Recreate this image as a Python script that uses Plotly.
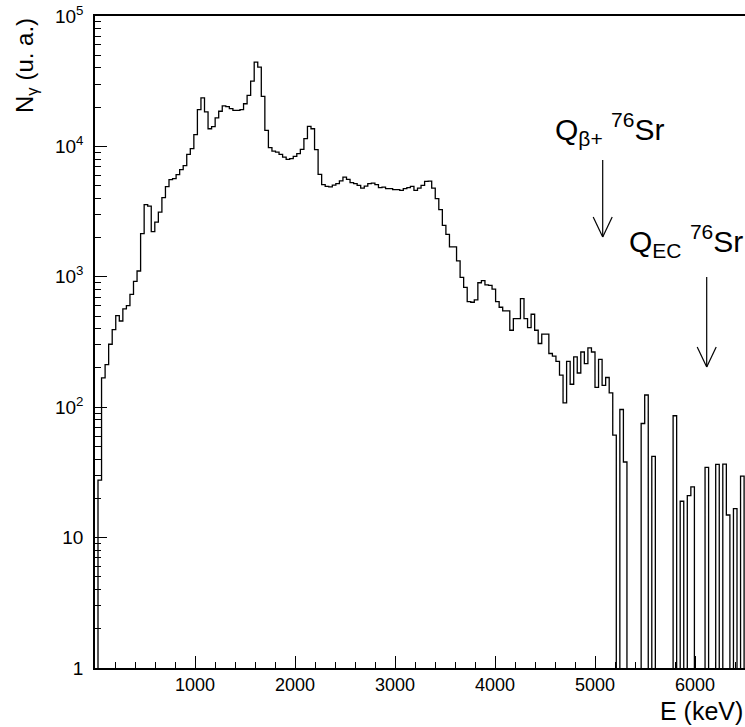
import numpy as np
import plotly.graph_objects as go

# ---------------- data ----------------
BIN_START_KEV = 30.0
BIN_WIDTH_KEV = 35.5

counts = [
    27.6, 168, 212, 304, 394, 504, 458, 567, 602, 734,
    924, 1108, 2143, 3575, 3487, 2220, 2630, 3138, 4045, 4912,
    5557, 5655, 6070, 6630, 7115, 8686, 9605, 12290, 19110, 23530,
    18390, 13660, 14160, 16540, 18610, 20430, 20150, 19450, 18870, 18870,
    19110, 21240, 24590, 31650, 44260, 40520, 24160, 13260, 9772, 9204,
    9044, 8686, 8279, 7951, 8050, 8385, 8795, 9485, 11460, 14230,
    13660, 9435, 6102, 5088, 4938, 4895, 5043, 5179, 5440, 5818,
    5587, 5271, 5179, 5024, 4791, 4964, 5179, 5234, 5088, 4825,
    4877, 4742, 4742, 4659, 4659, 4601, 4742, 4825, 4938, 4601,
    4791, 5024, 5392, 5420, 4791, 3974, 3272, 2480, 2117, 1698,
    1698, 1326, 991, 831, 646, 638, 666, 900, 935, 868,
    861, 805, 646, 584, 547, 547, 389, 478, 478, 681,
    478, 408, 516, 389, 308, 363, 363, 258, 246, 225,
    176, 108, 225, 150, 243, 183, 265, 216, 285, 265,
    142, 233, 147, 169, 129, 61, 0, 96, 38, 0,
    0, 0, 0, 75, 124, 0, 42, 0, 0, 0,
    0, 0, 86, 0, 19, 0, 21, 24.5, 0, 0,
    0, 34.5, 0, 0, 36.4, 0, 36.6, 14.9, 0, 16.7,
    0, 29.6, 0,
]

x_tick_vals = [1000, 2000, 3000, 4000, 5000, 6000]
x_tick_text = ["1000", "2000", "3000", "4000", "5000", "6000"]
y_tick_vals = [1, 10, 100, 1000, 10000, 100000]
y_tick_text = ["1", "10", "10<sup>2</sup>", "10<sup>3</sup>",
               "10<sup>4</sup>", "10<sup>5</sup>"]

q_values_kev = [5077, 6117]
q_labels = ["Q<sub>β+</sub> <sup>76</sup>Sr", "Q<sub>EC</sub> <sup>76</sup>Sr"]

# ---------------- figure ----------------
W, H = 745, 727
ML, MR, MT, MB = 95, 0, 16, 59
PH = H - MT - MB
PW = W - ML - MR
FONT = "Liberation Sans, Arial, Helvetica, sans-serif"
FLOOR = 0.05  # plotting stand-in for empty bins (below the axis range)

n = len(counts)
edges = BIN_START_KEV + BIN_WIDTH_KEV * np.arange(n + 1)
c = np.array(counts, dtype=float)
c_plot = np.where(c > 0, c, FLOOR)
x_line = np.concatenate([[edges[0]], edges[:-1], [edges[-1]]])
y_line = np.concatenate([[FLOOR], c_plot, [c_plot[-1]]])

fig = go.Figure()
fig.add_trace(go.Scatter(
    x=x_line, y=y_line, mode="lines",
    line=dict(shape="hv", color="black", width=1.3),
    hoverinfo="skip", showlegend=False,
))

def py(p):
    return (H - MB - p) / PH

def px(p):
    return (p - ML) / PW

shapes = []
arrow_geom = [(160, 237), (277, 367)]  # top, tip (pixels)
for q, (top, tip) in zip(q_values_kev, arrow_geom):
    shapes.append(dict(type="line", xref="x", yref="paper", x0=q, x1=q,
                       y0=py(top), y1=py(tip), line=dict(color="black", width=1.2)))
    for s in (-1, 1):
        shapes.append(dict(type="line", xref="x", yref="paper",
                           x0=q + s * 95, x1=q, y0=py(tip - 20), y1=py(tip),
                           line=dict(color="black", width=1.2)))

annotations = [
    dict(text=q_labels[0], xref="paper", yref="paper", x=px(553), y=py(129),
         xanchor="left", yanchor="middle", showarrow=False,
         font=dict(family=FONT, size=30, color="black")),
    dict(text=q_labels[1], xref="paper", yref="paper", x=px(627), y=py(241),
         xanchor="left", yanchor="middle", showarrow=False,
         font=dict(family=FONT, size=30, color="black")),
    dict(text="E (keV)", xref="paper", yref="paper", x=1.0, y=py(711),
         xanchor="right", yanchor="middle", showarrow=False,
         font=dict(family=FONT, size=25, color="black")),
    dict(text="N<sub>γ</sub> (u. a.)", xref="paper", yref="paper",
         x=px(26), y=py(66), xanchor="center", yanchor="middle",
         textangle=-90, showarrow=False,
         font=dict(family=FONT, size=24, color="black")),
]

y_minor = [k * 10 ** d for d in range(5) for k in range(2, 10)]

fig.update_layout(
    width=W, height=H,
    margin=dict(l=ML, r=MR, t=MT, b=MB, pad=0),
    paper_bgcolor="white", plot_bgcolor="white",
    font=dict(family=FONT, color="black"),
    shapes=shapes, annotations=annotations,
    xaxis=dict(
        range=[0, 6500], showgrid=False, zeroline=False,
        showline=True, linecolor="black", linewidth=1.5, mirror=True,
        ticks="inside", ticklen=12, tickwidth=1, tickcolor="black",
        tickmode="array", tickvals=x_tick_vals, ticktext=x_tick_text,
        tickfont=dict(family=FONT, size=18, color="black"),
        ticklabelstandoff=0,
        minor=dict(ticks="inside", ticklen=6, tickwidth=1, tickcolor="black",
                   tickmode="linear", tick0=0, dtick=200, showgrid=False),
    ),
    yaxis=dict(
        type="log", range=[0, 5], showgrid=False, zeroline=False,
        showline=True, linecolor="black", linewidth=1.5,
        ticks="inside", ticklen=12, tickwidth=1, tickcolor="black",
        tickmode="array", tickvals=y_tick_vals, ticktext=y_tick_text,
        tickfont=dict(family=FONT, size=19, color="black"),
        ticklabelstandoff=6,
        minor=dict(ticks="inside", ticklen=6, tickwidth=1, tickcolor="black",
                   tickmode="array", tickvals=y_minor, showgrid=False),
    ),
)

fig.write_html(
    "out.html",
    config={"displayModeBar": False},
    post_script="document.body.style.margin='0';document.body.style.padding='0';"
                "document.documentElement.style.overflow='hidden';",
)
